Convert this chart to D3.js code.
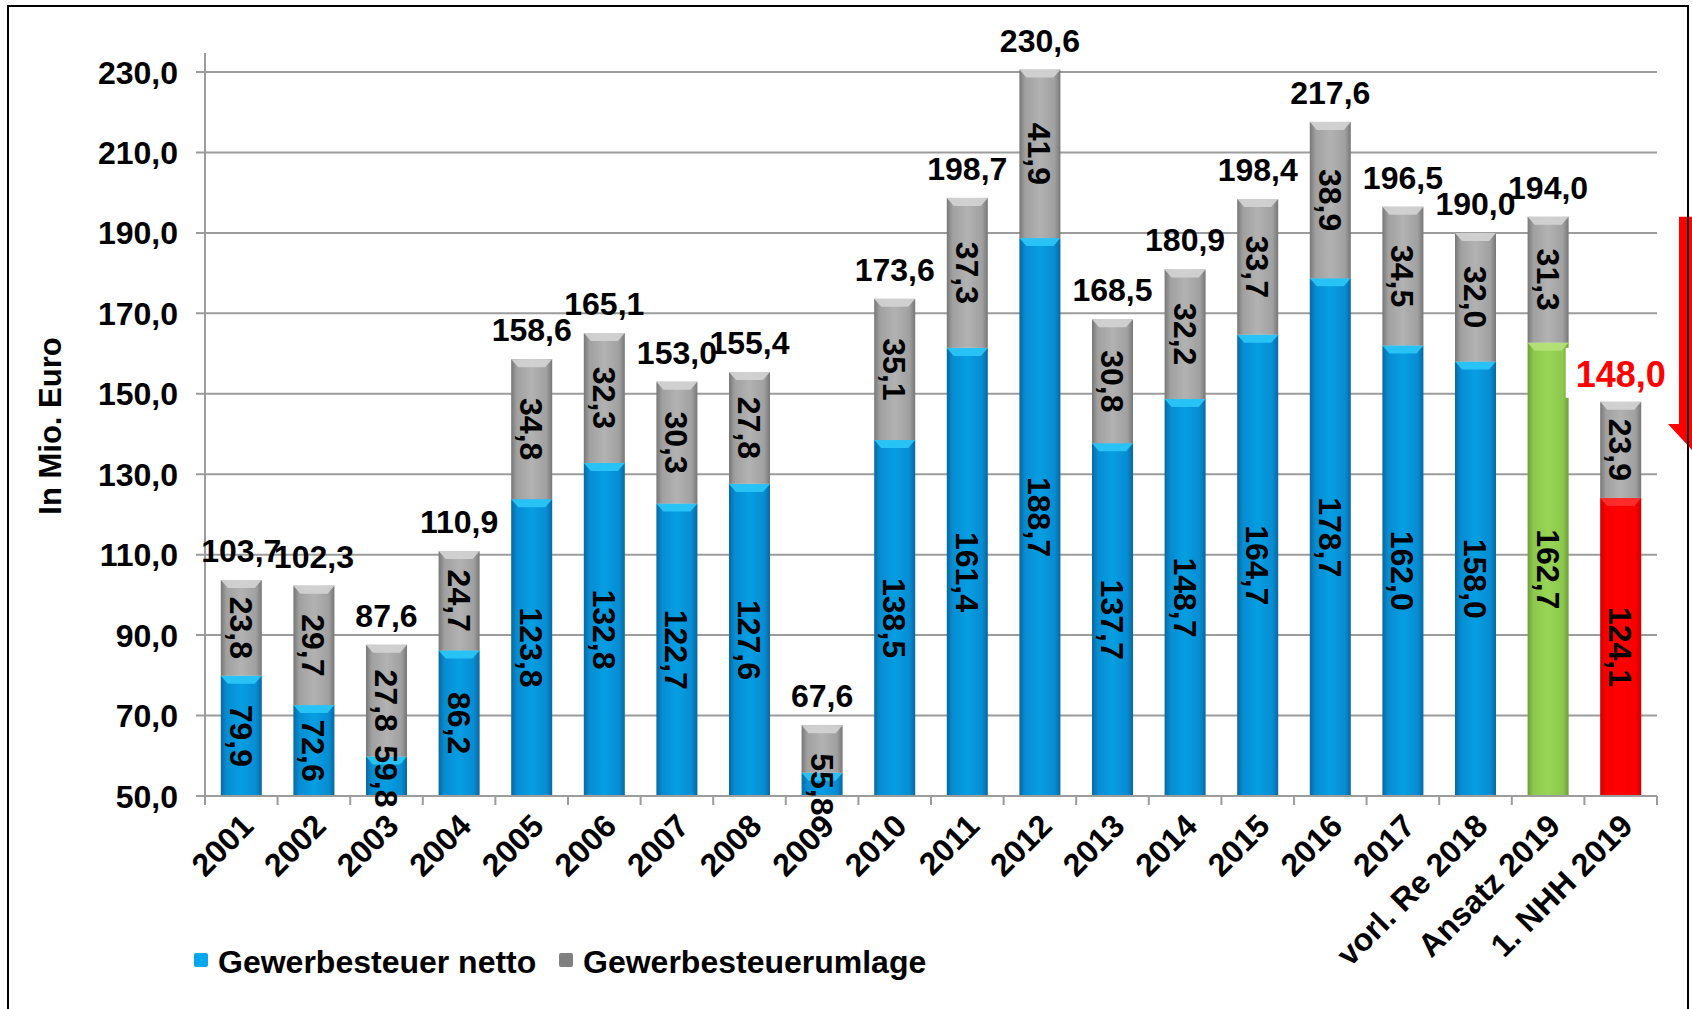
<!DOCTYPE html>
<html>
<head>
<meta charset="utf-8">
<script src="https://cdn.jsdelivr.net/npm/d3@7"></script>
<style>
  body { margin: 0; background: #fff; }
  text { font-family: "Liberation Sans", Arial, sans-serif; font-weight: bold; }
</style>
</head>
<body>
<div id="chart"></div>
<script>
var width = 1692;
var height = 1009;

// categories and values
var categories = ["2001", "2002", "2003", "2004", "2005", "2006", "2007", "2008", "2009", "2010",
  "2011", "2012", "2013", "2014", "2015", "2016", "2017", "vorl. Re 2018", "Ansatz 2019", "1. NHH 2019"];
var netto = [79.9, 72.6, 59.8, 86.2, 123.8, 132.8, 122.7, 127.6, 55.8, 138.5,
  161.4, 188.7, 137.7, 148.7, 164.7, 178.7, 162.0, 158.0, 162.7, 124.1];
var umlage = [23.8, 29.7, 27.8, 24.7, 34.8, 32.3, 30.3, 27.8, 11.8, 35.1,
  37.3, 41.9, 30.8, 32.2, 33.7, 38.9, 34.5, 32.0, 31.3, 23.9];
var totals = [103.7, 102.3, 87.6, 110.9, 158.6, 165.1, 153.0, 155.4, 67.6, 173.6,
  198.7, 230.6, 168.5, 180.9, 198.4, 217.6, 196.5, 190.0, 194.0, 148.0];
var yTicks = [50, 70, 90, 110, 130, 150, 170, 190, 210, 230];
var seriesNames = ["Gewerbesteuer netto", "Gewerbesteuerumlage"];

var fmt = function(v) { return v.toFixed(1).replace(".", ","); };

var svg = d3.select("#chart")
  .append("svg")
  .attr("width", width)
  .attr("height", height);

svg.append("rect")
  .attr("width", "100%")
  .attr("height", "100%")
  .attr("fill", "white");

// scales
var x = d3.scaleBand()
  .domain(categories)
  .range([205, 1657])
  .paddingInner(0.435)
  .paddingOuter(0.2175);

var y = d3.scaleLinear()
  .domain([50, 230])
  .range([796, 72]);

// gradients for the bevelled bars
var defs = svg.append("defs");
function hGrad(id, edge, mid, center) {
  var g = defs.append("linearGradient").attr("id", id)
    .attr("x1", "0%").attr("x2", "100%").attr("y1", "0%").attr("y2", "0%");
  g.append("stop").attr("offset", "0%").attr("stop-color", edge);
  g.append("stop").attr("offset", "14%").attr("stop-color", mid);
  g.append("stop").attr("offset", "50%").attr("stop-color", center);
  g.append("stop").attr("offset", "86%").attr("stop-color", mid);
  g.append("stop").attr("offset", "100%").attr("stop-color", edge);
}
hGrad("blue", "#0868a0", "#078cd2", "#069ee2");
hGrad("gray", "#777777", "#a0a0a0", "#b2b2b2");
hGrad("green", "#6f9e37", "#8cc84d", "#98d455");
hGrad("red", "#d00000", "#f80000", "#ff0000");

var fills = { blue: "url(#blue)", gray: "url(#gray)", green: "url(#green)", red: "url(#red)" };
var bevel = { blue: "#2cc8f8", gray: "#d4d4d4", green: "#b7e27a", red: "#ff3030" };
var special = { "Ansatz 2019": "green", "1. NHH 2019": "red" };

// gridlines
svg.append("g")
  .selectAll("line")
  .data(yTicks)
  .enter()
  .append("line")
  .attr("x1", 196)
  .attr("x2", x.range()[1])
  .attr("y1", function(d) { return y(d); })
  .attr("y2", function(d) { return y(d); })
  .attr("stroke", "#9c9c9c")
  .attr("stroke-width", 2);

// y axis labels
svg.append("g")
  .selectAll("text")
  .data(yTicks)
  .enter()
  .append("text")
  .attr("x", 178)
  .attr("y", function(d) { return y(d); })
  .attr("dy", "0.36em")
  .attr("text-anchor", "end")
  .style("font-size", "32px")
  .text(fmt);

// y axis line
svg.append("line")
  .attr("x1", 205).attr("x2", 205)
  .attr("y1", 53).attr("y2", y(50))
  .attr("stroke", "#9c9c9c").attr("stroke-width", 2);

// x axis ticks at band boundaries
var bounds = d3.range(categories.length + 1).map(function(i) { return x.range()[0] + i * x.step(); });
svg.append("g")
  .selectAll("line")
  .data(bounds)
  .enter()
  .append("line")
  .attr("x1", function(d) { return d; })
  .attr("x2", function(d) { return d; })
  .attr("y1", y(50))
  .attr("y2", y(50) + 9)
  .attr("stroke", "#9c9c9c")
  .attr("stroke-width", 2);

// y title
svg.append("text")
  .attr("transform", "translate(61,426) rotate(-90)")
  .attr("text-anchor", "middle")
  .style("font-size", "31px")
  .text("In Mio. Euro");

// stacked segments
var segs = [];
categories.forEach(function(c, i) {
  var k = special[c] || "blue";
  segs.push({ cat: c, y0: 50, y1: netto[i], v: netto[i], key: k });
  segs.push({ cat: c, y0: netto[i], y1: netto[i] + umlage[i], v: umlage[i], key: "gray" });
});

var bw = x.bandwidth();
var bars = svg.append("g").selectAll("g")
  .data(segs)
  .enter()
  .append("g");

bars.append("rect")
  .attr("x", function(d) { return x(d.cat); })
  .attr("y", function(d) { return y(d.y1); })
  .attr("width", bw)
  .attr("height", function(d) { return y(d.y0) - y(d.y1); })
  .attr("fill", function(d) { return fills[d.key]; });

bars.append("polygon")
  .attr("points", function(d) {
    var x0 = x(d.cat), t = y(d.y1), b = 8;
    return [[x0, t], [x0 + bw, t], [x0 + bw - 7, t + b], [x0 + 7, t + b]].join(" ");
  })
  .attr("fill", function(d) { return bevel[d.key]; })
  .attr("opacity", 0.9);

// x axis line on top of bars
svg.append("line")
  .attr("x1", 196).attr("x2", x.range()[1])
  .attr("y1", y(50)).attr("y2", y(50))
  .attr("stroke", "#9c9c9c").attr("stroke-width", 2);

// segment labels (rotated)
svg.append("g")
  .selectAll("text")
  .data(segs.filter(function(d) { return d.v >= 15 || d.key !== "gray"; }))
  .enter()
  .append("text")
  .attr("transform", function(d) {
    var cx = x(d.cat) + bw / 2;
    var cy = y((d.y0 + d.y1) / 2);
    return "translate(" + cx + "," + cy + ") rotate(90)";
  })
  .attr("text-anchor", "middle")
  .attr("dy", "0.36em")
  .style("font-size", "32px")
  .attr("fill", "#000")
  .text(function(d) { return fmt(d.v); });

// totals
var last = categories.length - 1;
svg.append("g")
  .selectAll("text")
  .data(totals)
  .enter()
  .filter(function(d, i) { return i !== last; })
  .append("text")
  .attr("x", function(d, i) { return x(categories[i]) + bw / 2; })
  .attr("y", function(d) { return y(d) - 18; })
  .attr("text-anchor", "middle")
  .style("font-size", "32px")
  .text(fmt);

// highlighted last total with white box
var lx = x(categories[last]) + bw / 2;
svg.append("rect")
  .attr("x", lx - 55)
  .attr("y", y(totals[last]) - 54)
  .attr("width", 102)
  .attr("height", 50)
  .attr("fill", "white");
svg.append("text")
  .attr("x", lx)
  .attr("y", y(totals[last]) - 15)
  .attr("text-anchor", "middle")
  .attr("fill", "#ff0000")
  .style("font-size", "36px")
  .text(fmt(totals[last]));

// x labels
svg.append("g")
  .selectAll("text")
  .data(categories)
  .enter()
  .append("text")
  .attr("transform", function(d) {
    return "translate(" + (x(d) + bw / 2 + 14) + "," + (y(50) + 32) + ") rotate(-45)";
  })
  .attr("text-anchor", "end")
  .style("font-size", "32px")
  .text(function(d) { return d; });

// legend
var legend = svg.append("g").attr("transform", "translate(194,961)");
var lItems = [{ name: seriesNames[0], c: "#05a8ec", x: 0 }, { name: seriesNames[1], c: "#808080", x: 365 }];
var li = legend.selectAll("g").data(lItems).enter().append("g")
  .attr("transform", function(d) { return "translate(" + d.x + ",0)"; });
li.append("rect").attr("x", 0).attr("y", -8).attr("width", 14).attr("height", 14)
  .attr("rx", 2).attr("fill", function(d) { return d.c; });
li.append("text").attr("x", 24).attr("y", 0).attr("dy", "0.36em")
  .style("font-size", "32px")
  .text(function(d) { return d.name; });

// red arrow at the right edge
var ay0 = y(194), ay1 = y(142.5), ay2 = y(136);
svg.append("path")
  .attr("d", "M1679," + ay0 + " L1705," + ay0 + " L1705," + ay1 + " L1716," + ay1 +
    " L1692," + ay2 + " L1668," + ay1 + " L1679," + ay1 + " Z")
  .attr("fill", "#ff0000");

// frame
svg.append("rect")
  .attr("x", 8).attr("y", 6)
  .attr("width", 1680).attr("height", 1100)
  .attr("fill", "none")
  .attr("stroke", "#000")
  .attr("stroke-width", 2);
</script>
</body>
</html>
